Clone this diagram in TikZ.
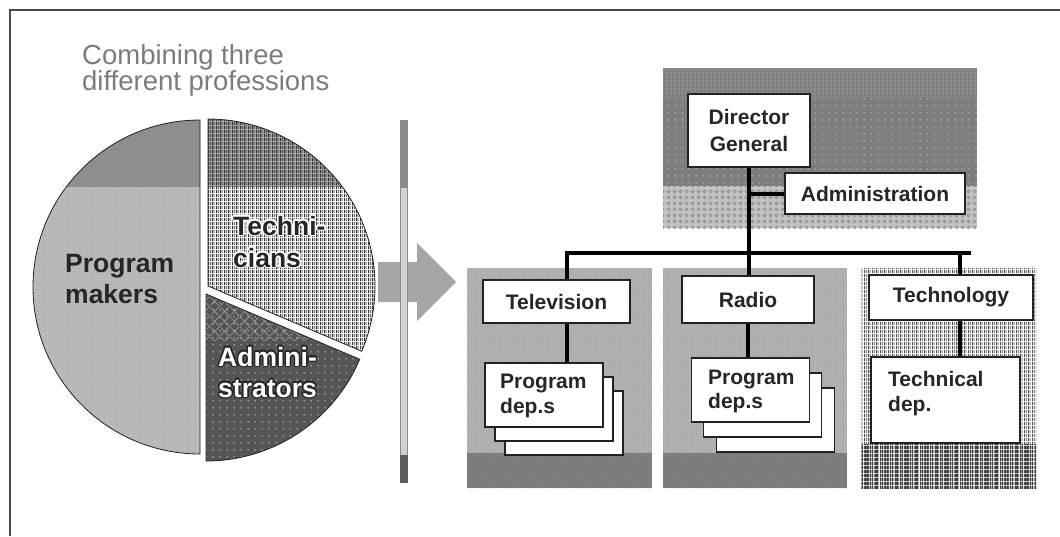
\documentclass[tikz,border=0pt]{standalone}
\usepackage{fontspec}
\setmainfont{Liberation Sans}
\usepackage{contour}
\contourlength{1.4pt}
\usetikzlibrary{patterns.meta}

% greys
\definecolor{framegray}{HTML}{4A4A4A}
\definecolor{titlegray}{HTML}{7C7C7C}
\definecolor{pmgray}{HTML}{BBBBBB}
\definecolor{pmdark}{HTML}{8E8E8E}
\definecolor{grainc}{HTML}{8F8F8F}
\definecolor{stripec}{HTML}{2E2E2E}
\definecolor{tctop}{HTML}{A4A4A4}
\definecolor{adgray}{HTML}{555555}
\definecolor{addiam}{HTML}{9C9C9C}
\definecolor{arrowgray}{HTML}{A6A6A6}
\definecolor{barlight}{HTML}{D2D2D2}
\definecolor{barline}{HTML}{8A8A8A}
\definecolor{bardark}{HTML}{5E5E5E}
\definecolor{dgtop}{HTML}{8A8A8A}
\definecolor{dgmid}{HTML}{7E7E7E}
\definecolor{dgbot}{HTML}{C2C2C2}
\definecolor{panelgray}{HTML}{B2B2B2}
\definecolor{paneldark}{HTML}{7C7C7C}
\definecolor{boxline}{HTML}{222222}
\definecolor{labeltext}{HTML}{262626}

% fill textures
\tikzdeclarepattern{name=grain, type=uncolored,
  bounding box={(0pt,0pt) and (6pt,6pt)}, tile size={(6pt,6pt)},
  code={
    \fill (0.3pt,0.6pt) rectangle (1.2pt,1.5pt);
    \fill (3.4pt,1.1pt) rectangle (4.2pt,1.9pt);
    \fill (1.8pt,3.2pt) rectangle (2.7pt,4.0pt);
    \fill (4.6pt,4.1pt) rectangle (5.5pt,4.9pt);
    \fill (0.9pt,5.0pt) rectangle (1.6pt,5.7pt);
    \fill (2.6pt,0.1pt) rectangle (3.0pt,0.5pt);
  }}
\tikzdeclarepattern{name=vstripes, type=uncolored,
  bounding box={(0pt,0pt) and (8pt,4pt)}, tile size={(8pt,4pt)},
  code={
    \fill (0pt,0pt) rectangle (1.3pt,4pt);
    \fill (2.6pt,0pt) rectangle (3.4pt,4pt);
    \fill (4.7pt,0pt) rectangle (6.1pt,4pt);
    \fill (7.0pt,0pt) rectangle (7.5pt,4pt);
  }}
\tikzdeclarepattern{name=densestripes, type=uncolored,
  bounding box={(0pt,0pt) and (5pt,4pt)}, tile size={(5pt,4pt)},
  code={
    \fill (0pt,0pt) rectangle (1.5pt,4pt);
    \fill (2.4pt,0pt) rectangle (3.6pt,4pt);
  }}
\tikzdeclarepattern{name=sdots, type=uncolored,
  bounding box={(0pt,0pt) and (7pt,7pt)}, tile size={(7pt,7pt)},
  code={
    \fill (3.5pt,3.5pt) circle (0.75pt);
  }}
\tikzdeclarepattern{name=diamonds, type=uncolored,
  bounding box={(0pt,0pt) and (10pt,10pt)}, tile size={(10pt,10pt)},
  code={
    \draw[line width=0.7pt] (0pt,0pt) -- (10pt,10pt) (0pt,10pt) -- (10pt,0pt);
  }}
\tikzdeclarepattern{name=rings, type=uncolored,
  bounding box={(0pt,0pt) and (6pt,6pt)}, tile size={(6pt,6pt)},
  code={
    \draw[line width=0.6pt] (3pt,3pt) circle (1.7pt);
  }}
\tikzdeclarepattern{name=finegrid, type=uncolored,
  bounding box={(0pt,0pt) and (4pt,4pt)}, tile size={(4pt,4pt)},
  code={
    \fill (0pt,0pt) rectangle (4pt,0.8pt);
    \fill (0pt,0pt) rectangle (0.8pt,4pt);
  }}

% pie slices
\newcommand\pmslice{(pmc) -- ++(-90:167) arc[start angle=-90,end angle=-270,radius=167] -- cycle}
\newcommand\tcslice{(tcc) -- ++(-90:167) arc[start angle=-90,end angle=23,radius=167] -- cycle}
\newcommand\adslice{(adc) -- ++(23:167) arc[start angle=23,end angle=90,radius=167] -- cycle}

\newcommand\lblfont{\fontsize{21}{25}\selectfont\bfseries}
\newcommand\piefont{\fontsize{26.5}{31}\selectfont\bfseries}

\begin{document}
\begin{tikzpicture}[x=1pt,y=-1pt,
  title/.style={font=\fontsize{27.5}{30}\selectfont, text=titlegray, inner sep=0pt, anchor=base west},
  pielbl/.style={font=\piefont, inner sep=0pt, anchor=base west},
  pieline/.style={draw=boxline, line width=0.8pt},
  box/.style={draw=boxline, line width=1.3pt, fill=white, inner sep=0pt,
    font=\lblfont, text=labeltext, align=center},
  sheet/.style={draw=boxline, line width=1.1pt, fill=white, inner sep=0pt,
    minimum width=118pt, minimum height=64pt},
  lbl/.style={font=\lblfont, text=labeltext, inner sep=0pt, anchor=base west},
  conn/.style={line width=4pt, black}]

\useasboundingbox (0,0) rectangle (1060,536);
\fill[white] (0,0) rectangle (1060,536);

% frame
\draw[framegray, line width=1.6pt] (10,536) -- (10,10) -- (1060,10);

% heading
\node[title] (head1) at (82,64) {Combining three};
\node[title] (head2) at (82,90) {different professions};

% ---------- pie ----------
\coordinate (pmc) at (200,287);
\coordinate (tcc) at (208,286);
\coordinate (adc) at (206,294);

% program makers
\fill[pmgray] \pmslice;
\begin{scope}
  \clip \pmslice;
  \fill[pmdark] (20,100) rectangle (210,187);
\end{scope}
\path[pattern=grain, pattern color=grainc] \pmslice;
\draw[pieline] \pmslice;

% technicians
\fill[white] \tcslice;
\begin{scope}
  \clip \tcslice;
  \fill[tctop] (200,100) rectangle (390,187);
\end{scope}
\path[pattern=vstripes, pattern color=stripec] \tcslice;
\draw[pieline] \tcslice;

% administrators
\fill[adgray] \adslice;
\begin{scope}
  \clip \adslice;
  \path[pattern=diamonds, pattern color=addiam] (200,290) rectangle (380,340);
\end{scope}
\path[pattern=sdots, pattern color=white] \adslice;
\draw[pieline] \adslice;

% slice labels (haloed where they sit on a busy fill)
\node[pielbl, text=labeltext] (pm1) at (65,272) {Program};
\node[pielbl, text=labeltext] (pm2) at (65,303) {makers};
\node[pielbl, text=labeltext] (tc1) at (233,235) {\contour{white}{Techni-}};
\node[pielbl, text=labeltext] (tc2) at (233,267) {\contour{white}{cians}};
\node[pielbl, text=white] (ad1) at (218,366) {\contour{labeltext}{Admini-}};
\node[pielbl, text=white] (ad2) at (218,397) {\contour{labeltext}{strators}};

% ---------- arrow and divider ----------
\fill[arrowgray] (378,262) -- (417,262) -- (417,243) -- (456,282)
  -- (417,321) -- (417,302) -- (378,302) -- cycle;
\filldraw[fill=barlight, draw=barline, line width=0.8pt] (400,120) rectangle (407,482);
\filldraw[fill=barline, draw=barline, line width=0.8pt] (400,120) rectangle (407,187);
\filldraw[fill=bardark, draw=bardark, line width=0.8pt] (400,455) rectangle (407,482);

% ---------- organisation chart ----------
% management panel
\fill[dgmid] (663,68) rectangle (977,228);
\path[pattern=sdots, pattern color=white!85!black] (663,97) rectangle (977,186);
\fill[dgtop] (663,68) rectangle (977,97);
\path[pattern=finegrid, pattern color=black!55] (663,68) rectangle (977,97);
\fill[dgbot] (663,186) rectangle (977,228);
\path[pattern=rings, pattern color=black!50] (663,186) rectangle (977,228);

% television and radio panels
\foreach \xa/\xb in {467/652, 663/847}{
  \fill[panelgray] (\xa,268) rectangle (\xb,488);
  \fill[paneldark] (\xa,453) rectangle (\xb,488);
  \path[pattern=grain, pattern color=black!45] (\xa,268) rectangle (\xb,488);
}
% technology panel
\fill[white] (861,268) rectangle (1036,488);
\path[pattern=vstripes, pattern color=black!70] (861,268) rectangle (1036,488);
\path[pattern=densestripes, pattern color=black!80] (861,444) rectangle (1036,488);

% boxes
\node[box, minimum width=122pt, minimum height=73pt,
  font=\fontsize{21}{27}\selectfont\bfseries] (dg) at (749,130.5) {Director\\General};
\node[box, minimum width=180pt, minimum height=41pt] (adm) at (875,193.5) {Administration};
\node[box, minimum width=147pt, minimum height=43pt] (tv) at (556.5,301.5) {Television};
\node[box, minimum width=132pt, minimum height=47pt] (radio) at (748,299.5) {Radio};
\node[box, minimum width=164pt, minimum height=45pt] (tech) at (951,297.5) {Technology};

% stacked programme departments
\node[sheet] (tvp3) at (564,423) {};
\node[sheet] (tvp2) at (554,409) {};
\node[sheet] (tvp1) at (544,395) {};
\node[sheet] (rdp3) at (775.5,420) {};
\node[sheet] (rdp2) at (762.5,405) {};
\node[sheet] (rdp1) at (750.5,390) {};
\node[box, minimum width=149pt, minimum height=86pt] (tdep) at (945.5,400) {};

\node[lbl] (tvt1) at (500,388) {Program};
\node[lbl] (tvt2) at (500,413) {dep.s};
\node[lbl] (rdt1) at (708,384) {Program};
\node[lbl] (rdt2) at (708,408) {dep.s};
\node[lbl] (tdt1) at (888,386) {Technical};
\node[lbl] (tdt2) at (888,411) {dep.};

% connectors
\coordinate (busL) at (565,253);
\coordinate (busR) at (971,253);
\draw[conn] (busL) -- (busR);
\draw[conn] (dg.south) -- (dg.south |- radio.north);
\draw[conn] (dg.south |- adm.west) -- (adm.west);
\draw[conn] ([xshift=10.5pt]tv.north) -- ([xshift=10.5pt]tv.north |- busL);
\draw[conn] ([xshift=10.5pt]tv.south) -- ([xshift=10.5pt]tv.south |- tvp1.north);
\draw[conn] (radio.south) -- (radio.south |- rdp1.north);
\draw[conn] ([xshift=9pt]tech.north) -- ([xshift=9pt]tech.north |- busR);
\draw[conn] ([xshift=9pt]tech.south) -- ([xshift=9pt]tech.south |- tdep.north);
\end{tikzpicture}
\end{document}
